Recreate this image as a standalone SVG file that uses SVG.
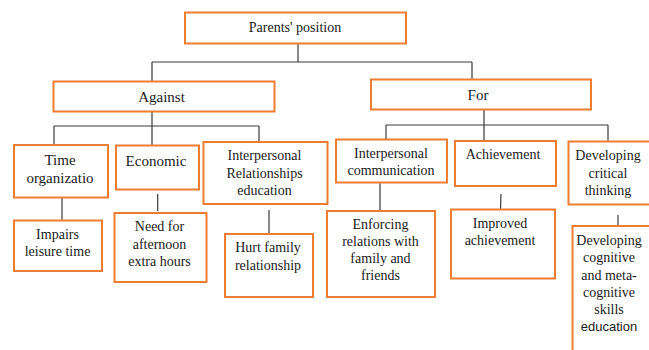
<svg xmlns="http://www.w3.org/2000/svg" width="649" height="350" viewBox="0 0 649 350">
<style>
  .box { fill: #ffffff; stroke: #ED7D31; stroke-width: 2; }
  .t { font-family: "Liberation Serif", "Times New Roman", serif; font-size: 14px; fill: #1a1a1a; text-anchor: middle; }
  .t15 { font-size: 15px; }
  .sans { font-family: "Liberation Sans", Arial, sans-serif; font-size: 13px; }
  .c { stroke: #3a3a3a; stroke-width: 1.2; fill: none; }
</style>
<rect x="0" y="0" width="649" height="350" fill="#ffffff"/>
<g id="connectors">
  <path class="c" d="M298,43.5 V62 M152,62 H472 M152,62 V81.5 M472,62 V79.5"/>
  <path class="c" d="M152,111.5 V126 M54,126 H259 M54,126 V145 M152,126 V145.5 M259,126 V142"/>
  <path class="c" d="M484,109.5 V125 M386,125 H608 M386,125 V139.5 M484,125 V141 M608,125 V141.5"/>
  <path class="c" d="M62,197.5 V220.5 M157.7,194 V211 M269,210 V234 M380,182.5 V211 M501,194 L500.5,209.5 M618,215 V231"/>
</g>
<g id="parents">
  <rect class="box" x="185" y="12.5" width="221" height="31"/>
  <text class="t" x="295" y="32">Parents' position</text>
</g>
<g id="against">
  <rect class="box" x="53.5" y="81.5" width="221" height="30"/>
  <text class="t t15" x="161.5" y="102">Against</text>
</g>
<g id="for">
  <rect class="box" x="371" y="79.5" width="220" height="30"/>
  <text class="t t15" x="478" y="99.5">For</text>
</g>
<g id="time">
  <rect class="box" x="14" y="145" width="94" height="52.5"/>
  <text class="t t15" x="60" y="164.5">Time</text>
  <text class="t t15" x="60" y="183">organizatio</text>
</g>
<g id="economic">
  <rect class="box" x="116" y="145.5" width="83" height="44"/>
  <text class="t t15" x="156" y="165.5">Economic</text>
</g>
<g id="interRel">
  <rect class="box" x="203.5" y="142" width="124" height="62"/>
  <text class="t" x="264.5" y="160">Interpersonal</text>
  <text class="t" x="264.5" y="177.5">Relationships</text>
  <text class="t" x="264.5" y="194.5">education</text>
</g>
<g id="interComm">
  <rect class="box" x="336" y="139.5" width="111" height="43"/>
  <text class="t" x="391" y="157.5">Interpersonal</text>
  <text class="t" x="391" y="174.5">communication</text>
</g>
<g id="achievement">
  <rect class="box" x="455" y="141" width="101" height="45"/>
  <text class="t" x="503" y="159">Achievement</text>
</g>
<g id="devCritical">
  <rect class="box" x="568.5" y="141.5" width="90" height="63"/>
  <text class="t" x="608" y="160">Developing</text>
  <text class="t" x="608" y="177.5">critical</text>
  <text class="t" x="608" y="194.5">thinking</text>
</g>
<g id="impairs">
  <rect class="box" x="14" y="220.5" width="88" height="50.5"/>
  <text class="t" x="57.5" y="239">Impairs</text>
  <text class="t" x="57.5" y="255.5">leisure time</text>
</g>
<g id="need">
  <rect class="box" x="114.5" y="213" width="92" height="69"/>
  <text class="t" x="159.5" y="231">Need for</text>
  <text class="t" x="159.5" y="248.5">afternoon</text>
  <text class="t" x="159.5" y="265.5">extra hours</text>
</g>
<g id="hurt">
  <rect class="box" x="225" y="234" width="88" height="63"/>
  <text class="t" x="268" y="252">Hurt family</text>
  <text class="t" x="268" y="269.5">relationship</text>
</g>
<g id="enforcing">
  <rect class="box" x="327" y="211" width="108" height="86"/>
  <text class="t" x="380.5" y="228.5">Enforcing</text>
  <text class="t" x="380.5" y="245.5">relations with</text>
  <text class="t" x="380.5" y="262.5">family and</text>
  <text class="t" x="380.5" y="280">friends</text>
</g>
<g id="improved">
  <rect class="box" x="451" y="209.5" width="104" height="69"/>
  <text class="t" x="500" y="228">Improved</text>
  <text class="t" x="500" y="245">achievement</text>
</g>
<g id="devCognitive">
  <rect class="box" x="572.5" y="226" width="90" height="140"/>
  <text class="t" x="609" y="245">Developing</text>
  <text class="t" x="609" y="262">cognitive</text>
  <text class="t" x="609" y="279.5">and meta-</text>
  <text class="t" x="609" y="297">cognitive</text>
  <text class="t" x="609" y="313.5">skills</text>
  <text class="t sans" x="609" y="331">education</text>
</g>
</svg>
